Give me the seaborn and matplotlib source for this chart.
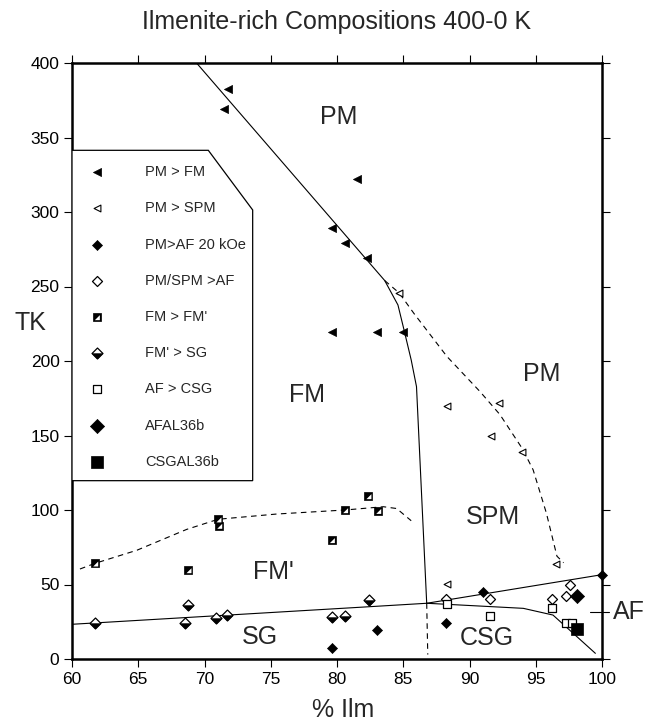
import matplotlib
matplotlib.use("Agg")
import matplotlib.pyplot as plt
from matplotlib.path import Path
import seaborn as sns

# ---- transition temperatures (% ilmenite, T in K) ----
pm_fm_x = [71.75, 71.47, 81.51, 79.6, 80.6, 82.3, 79.6, 83.0, 84.96]
pm_fm_t = [382.6, 369.1, 322.1, 289.5, 279.4, 269.3, 219.7, 219.7, 219.7]
pm_spm_x = [84.68, 88.28, 92.23, 91.6, 93.98, 96.5, 88.28]
pm_spm_t = [245.6, 169.8, 172.0, 150.0, 138.7, 63.8, 50.1]
pm_af_x = [79.6, 83.0, 88.2, 91.0, 100.0]
pm_af_t = [7.2, 19.3, 24.4, 44.8, 56.6]
pmspm_af_x = [88.2, 91.55, 96.2, 97.6, 97.3]
pmspm_af_t = [40.3, 40.0, 40.0, 49.7, 42.5]
fm_fmp_x = [61.74, 68.78, 71.04, 71.1, 79.6, 80.6, 82.36, 83.1]
fm_fmp_t = [64.2, 59.7, 93.8, 89.5, 79.9, 100.0, 109.4, 99.5]
fmp_sg_x = [61.74, 68.5, 68.78, 70.9, 71.7, 79.6, 80.6, 82.4]
fmp_sg_t = [24.0, 24.0, 36.2, 27.3, 29.5, 28.4, 29.1, 39.6]
af_csg_x = [88.28, 91.55, 96.25, 97.3, 97.7]
af_csg_t = [36.7, 29.1, 34.0, 24.0, 24.0]
afal36b_x = [98.1]
afal36b_t = [42.3]
csgal36b_x = [98.1]
csgal36b_t = [19.9]

# ---- phase boundaries ----
pm_fm_line_x = [69.4, 83.6, 84.6, 85.0, 85.6, 86.0, 86.77]
pm_fm_line_t = [400, 254, 237.6, 223, 200.7, 182.8, 37.4]
fm_low_line_x = [86.77, 86.85]
fm_low_line_t = [37.4, 3.0]
pm_spm_line_x = [83.6, 84.7, 85.8, 88.3, 90.8, 92.3, 94.0, 94.8, 95.8, 96.6, 97.1]
pm_spm_line_t = [254, 245.6, 232, 203, 179.4, 164, 141, 127, 98, 69, 64.6]
fm_fmp_line_x = [60.6, 61.74, 64.9, 68.66, 71.04, 75.45, 80.6, 83.5, 84.5, 85.6]
fm_fmp_line_t = [60.4, 64.2, 73, 87, 93.8, 97.3, 100, 102.2, 101, 92.8]
sg_line_x = [60, 81.7, 86.77]
sg_line_t = [23.3, 34.7, 37.4]
af_line_x = [86.77, 100]
af_line_t = [37.4, 56.6]
csg_line_x = [86.77, 88.3, 94.06, 96.3, 99.5]
csg_line_t = [37.4, 36.7, 34.0, 29.5, 3.8]

# ---- region names ----
region_names = ["PM", "PM", "SPM", "FM", "FM'", "SG", "CSG"]
region_x = [80.1, 95.45, 91.8, 77.7, 75.2, 74.2, 91.3]
region_t = [364, 191, 95.3, 177.2, 58.6, 15, 13.9]

legend_labels = ["PM > FM", "PM > SPM", "PM>AF 20 kOe", "PM/SPM >AF",
                 "FM > FM'", "FM' > SG", "AF > CSG", "AFAL36b", "CSGAL36b"]

x_ticks = [60, 65, 70, 75, 80, 85, 90, 95, 100]
t_ticks = [0, 50, 100, 150, 200, 250, 300, 350, 400]

sns.set_style("ticks")
plt.rcParams["font.family"] = ["Liberation Sans", "DejaVu Sans"]

# lower half of a diamond (scaled to overlay a 'D' of half the area)
tri_lower = Path([(-1, 0), (1, 0), (0, -1), (-1, 0)],
                 [Path.MOVETO, Path.LINETO, Path.LINETO, Path.CLOSEPOLY])
# white notch in the lower-right corner of a square
notch = Path([(-1, 1), (0.72, -0.72), (0.72, 0.42), (-0.42, -0.72), (0.72, -0.72)],
             [Path.MOVETO, Path.MOVETO, Path.LINETO, Path.LINETO, Path.CLOSEPOLY])

LAYERS = {
    "PM > FM": [("<", 34, "black", "black", 0.5)],
    "PM > SPM": [("<", 24, "white", "black", 0.8)],
    "PM>AF 20 kOe": [("D", 26, "black", "black", 0.5)],
    "PM/SPM >AF": [("D", 26, "white", "black", 0.9)],
    "FM > FM'": [("s", 40, "black", "black", 0.5), (notch, 40, "white", "none", 0)],
    "FM' > SG": [("D", 31, "white", "black", 0.9), (tri_lower, 62, "black", "black", 0.3)],
    "AF > CSG": [("s", 32, "white", "black", 0.9)],
    "AFAL36b": [("D", 52, "black", "black", 0.5)],
    "CSGAL36b": [("s", 72, "black", "black", 0.5)],
}

series = {
    "PM > FM": (pm_fm_x, pm_fm_t),
    "PM > SPM": (pm_spm_x, pm_spm_t),
    "PM>AF 20 kOe": (pm_af_x, pm_af_t),
    "PM/SPM >AF": (pmspm_af_x, pmspm_af_t),
    "FM > FM'": (fm_fmp_x, fm_fmp_t),
    "FM' > SG": (fmp_sg_x, fmp_sg_t),
    "AF > CSG": (af_csg_x, af_csg_t),
    "AFAL36b": (afal36b_x, afal36b_t),
    "CSGAL36b": (csgal36b_x, csgal36b_t),
}

fig = plt.figure(figsize=(6.47, 7.21), dpi=100)
ax = fig.add_axes([72 / 647, 1 - 659 / 721, 530 / 647, 596 / 721])

solid = dict(color="black", linewidth=0.8, sort=False, estimator=None, ax=ax)
dashed = dict(solid, linestyle=(0, (5, 4)))

sns.lineplot(x=pm_fm_line_x, y=pm_fm_line_t, **solid)
sns.lineplot(x=fm_low_line_x, y=fm_low_line_t, **dashed)
sns.lineplot(x=pm_spm_line_x, y=pm_spm_line_t, **dashed)
sns.lineplot(x=fm_fmp_line_x, y=fm_fmp_line_t, **dashed)
sns.lineplot(x=sg_line_x, y=sg_line_t, **solid)
sns.lineplot(x=af_line_x, y=af_line_t, **solid)
sns.lineplot(x=csg_line_x, y=csg_line_t, **solid)

for name, (xs, ts) in series.items():
    for mk, s, fc, ec, lw in LAYERS[name]:
        sns.scatterplot(x=xs, y=ts, marker=mk, s=s, color=fc, edgecolor=ec,
                        linewidth=lw, ax=ax, zorder=3, clip_on=False)

for name, x, t in zip(region_names, region_x, region_t):
    ax.text(x, t, name, fontsize=18, ha="center", va="center")

# legend panel with clipped corner
box = [(0, 0.8535), (0.2572, 0.8535), (0.3409, 0.7534), (0.3409, 0.2992), (0, 0.2992)]
ax.add_patch(plt.Polygon(box, closed=True, fill=True, facecolor="white",
                         edgecolor="black", linewidth=0.9,
                         transform=ax.transAxes, zorder=4))
row_top, row_bot = (659 - 172.3) / 596, (659 - 461.7) / 596
step = (row_top - row_bot) / (len(legend_labels) - 1)
for i, name in enumerate(legend_labels):
    yy = row_top - i * step
    for mk, s, fc, ec, lw in LAYERS[name]:
        ax.scatter([0.0466], [yy], marker=mk, s=s, c=fc, edgecolors=ec,
                   linewidths=lw, transform=ax.transAxes, zorder=5)
    ax.text(0.1377, yy, name, fontsize=10.5, va="center", ha="left",
            transform=ax.transAxes, zorder=5)

# AF level marker on the right side
ax.plot([99.1, 100.55], [31.7, 31.7], color="black", linewidth=0.8, clip_on=False)
ax.text(100.85, 31.7, "AF", fontsize=18, ha="left", va="center")

ax.set_xlim(60, 100)
ax.set_ylim(0, 400)
ax.set_xticks(x_ticks)
ax.set_yticks(t_ticks)
ax.set_xticklabels([str(v) for v in x_ticks])
ax.set_yticklabels([str(v) for v in t_ticks])
ax.set_xlabel("")
ax.set_ylabel("")
ax.tick_params(direction="out", top=True, right=True, length=6, width=0.8,
               labelsize=12.5, pad=3, colors="black")
for side in ax.spines.values():
    side.set_linewidth(1.8)
    side.set_color("black")

fig.text(337 / 647, 1 - 29.3 / 721, "Ilmenite-rich Compositions 400-0 K",
         fontsize=18, ha="center", va="baseline")
fig.text(343 / 647, 0.006, "% Ilm", fontsize=18, ha="center", va="baseline")
fig.text(30.7 / 647, 1 - 322.5 / 721, "TK", fontsize=18, ha="center", va="center")

fig.savefig("out.png", dpi=100, facecolor="white")
